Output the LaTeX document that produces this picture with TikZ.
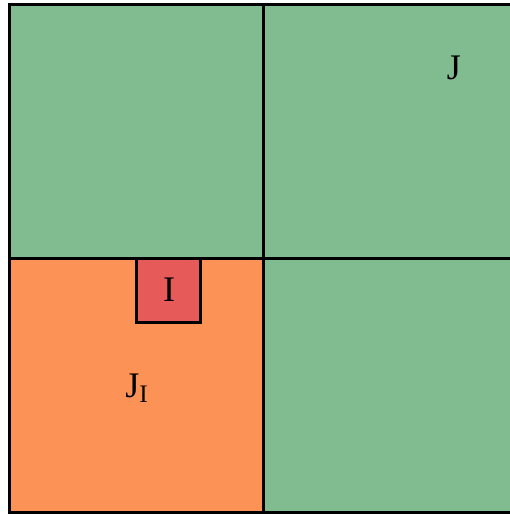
\documentclass[tikz,border=0pt]{standalone}
\usepackage{fontspec}
\setmainfont{Liberation Serif}
\usetikzlibrary{positioning}

\definecolor{cellgreen}{RGB}{128,188,144}
\definecolor{cellorange}{RGB}{253,146,86}
\definecolor{cellred}{RGB}{231,90,90}

\tikzset{
  quad/.style={draw, line width=1.5pt, inner sep=0pt, minimum size=127pt},
  cube/.style={draw, line width=1.5pt, inner sep=0pt, minimum size=32pt, fill=cellred},
  lbl/.style={inner sep=0pt, font=\fontsize{18}{20}\selectfont}
}

\begin{document}
\begin{tikzpicture}[x=0.5pt,y=-0.5pt]

\clip (0,0) rectangle (510,516);

\node[quad, fill=cellgreen] (q1) at (137,131) {};
\node[quad, fill=cellgreen] (q2) at (391,131) {};
\node[quad, fill=cellorange] (q3) at (137,385) {};
\node[quad, fill=cellgreen] (q4) at (391,385) {};

\node[cube] (I) at (169,290) {};
\node[lbl] (Ilbl) at (I.center) {I};

\node[lbl] (J) at (454,68) {J};
\node[lbl] (JI) at (137,388) {J\textsubscript{I}};

\end{tikzpicture}
\end{document}
